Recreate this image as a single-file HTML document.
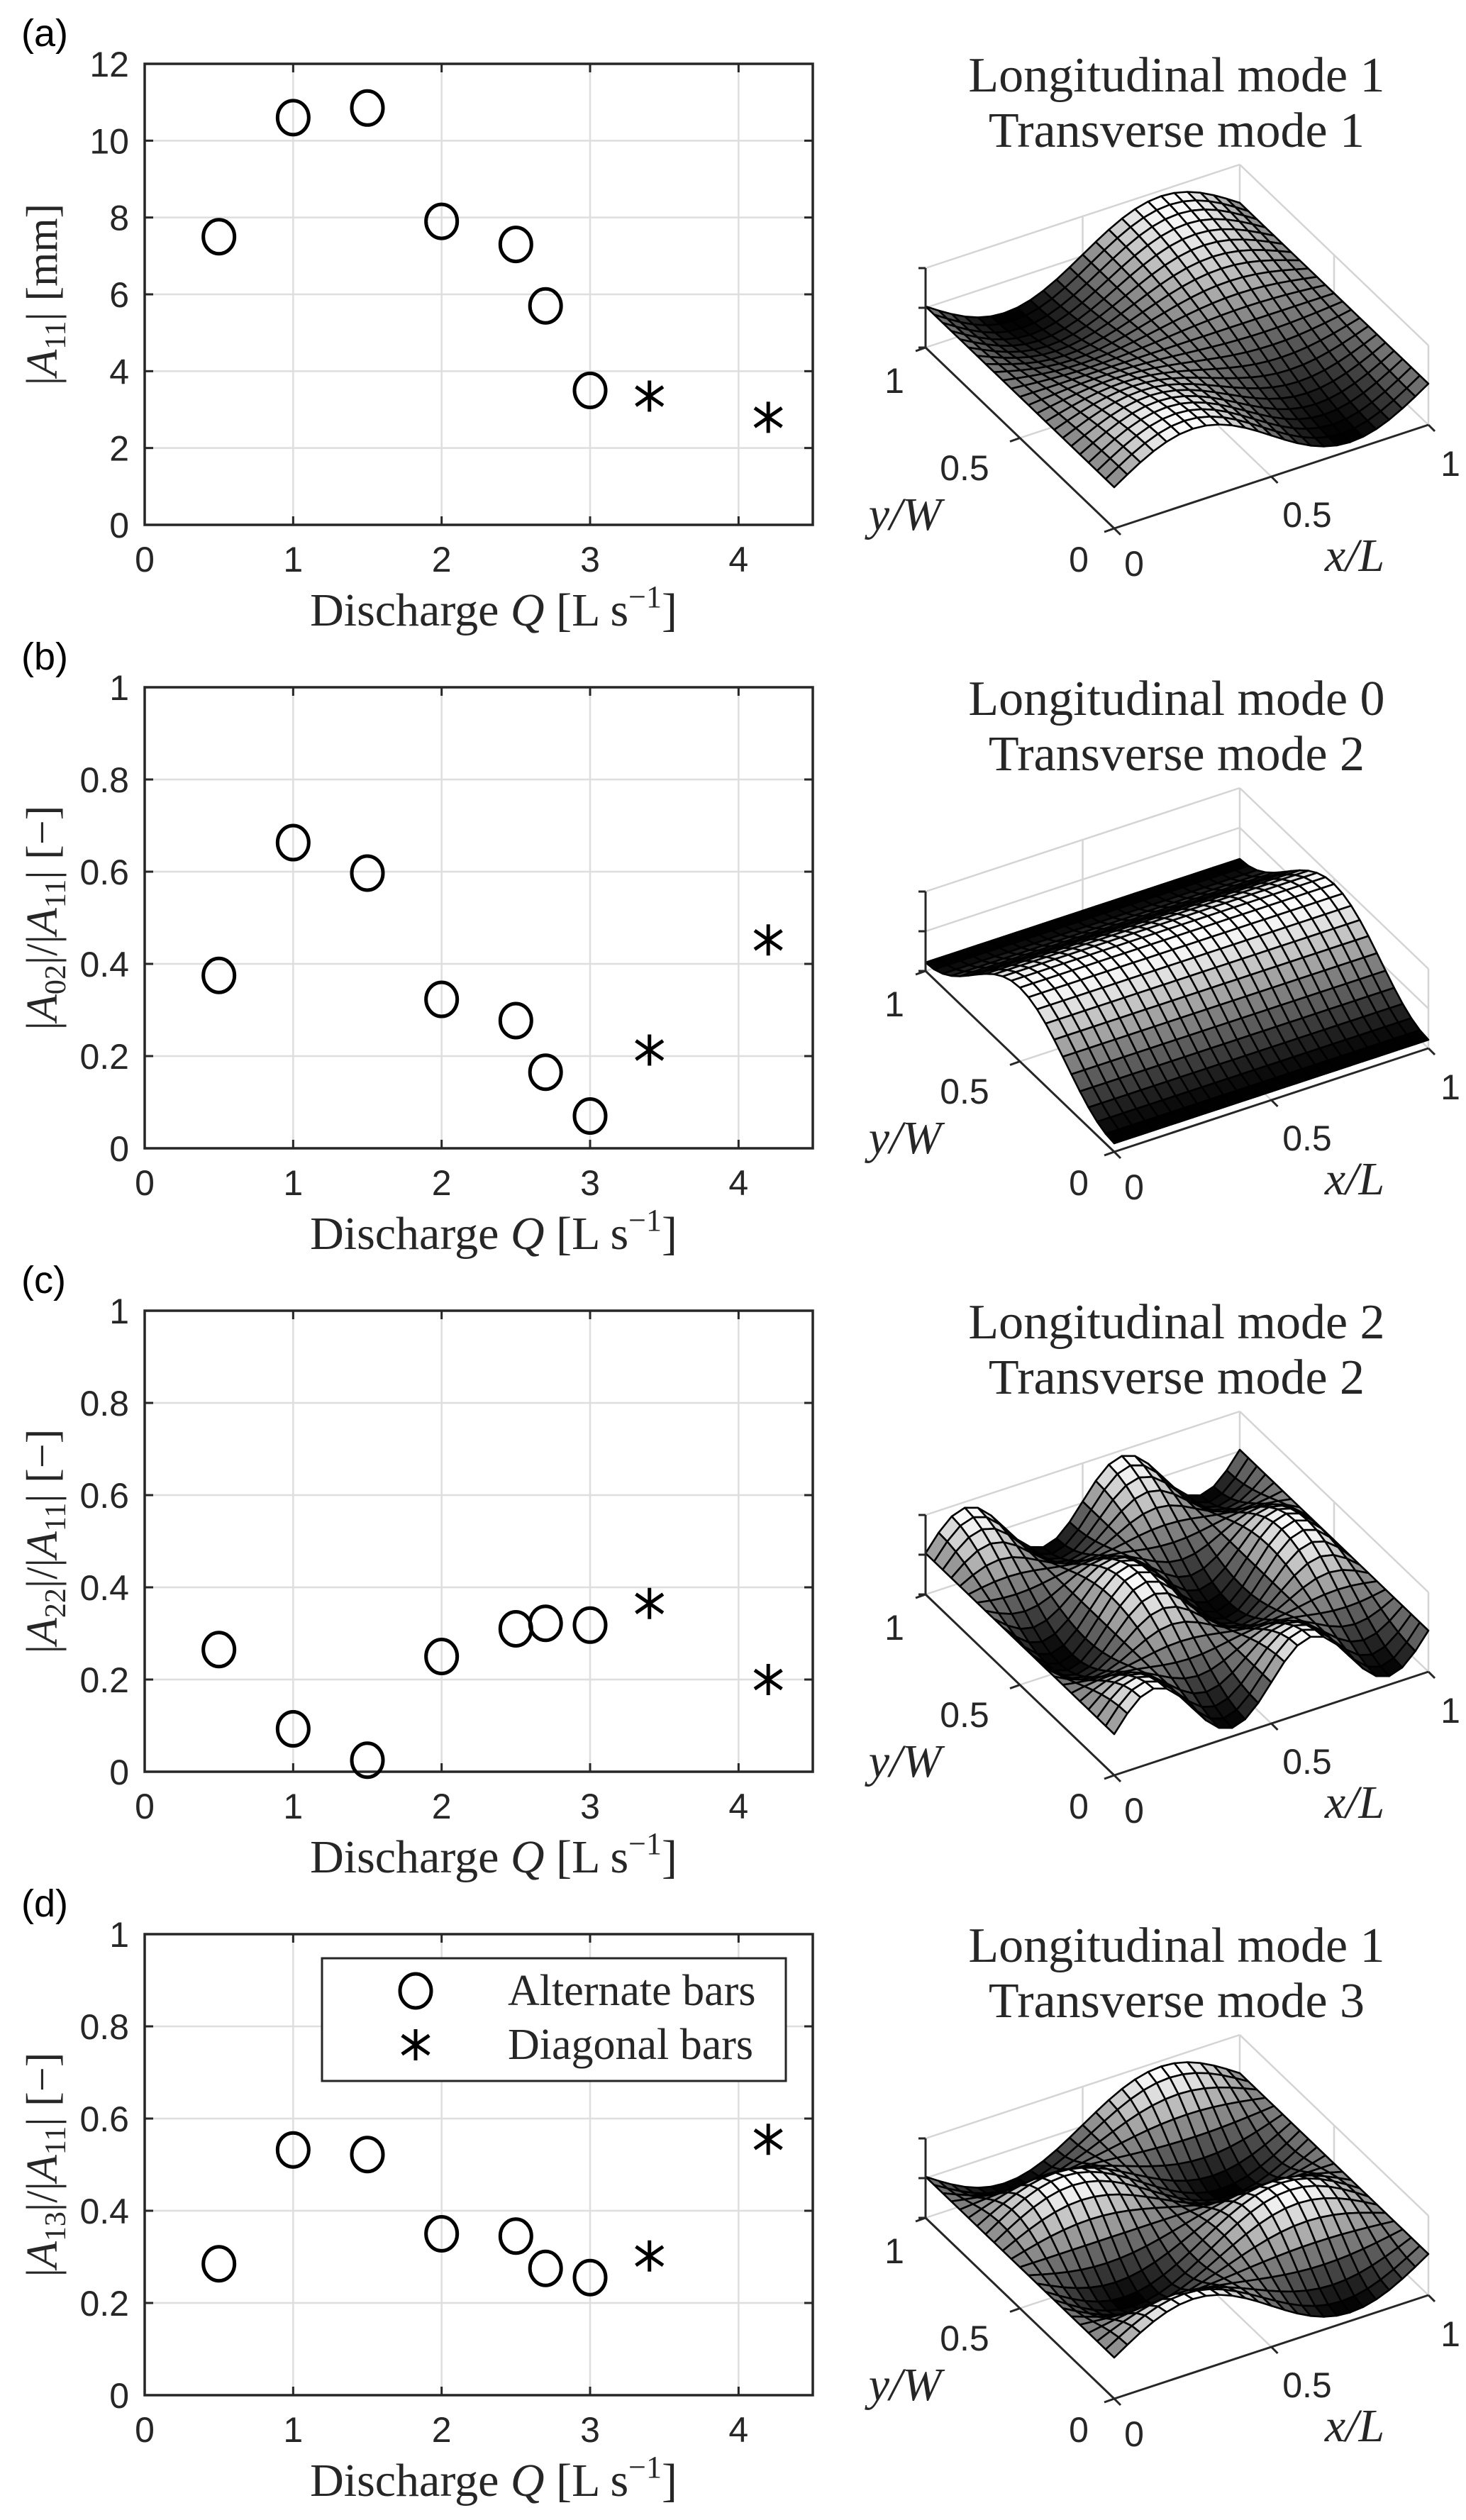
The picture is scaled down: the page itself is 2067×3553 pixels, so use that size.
<!DOCTYPE html>
<html><head><meta charset="utf-8"><style>
html,body{margin:0;padding:0;background:#fff;}
svg{display:block;}
.tick{font-family:"Liberation Sans",Arial,sans-serif;font-size:50px;fill:#262626;}
.ser{font-family:"Liberation Serif","DejaVu Serif",serif;fill:#262626;}
</style></head><body>
<svg id="fig" width="2067" height="3553" viewBox="0 0 2067 3553" xmlns="http://www.w3.org/2000/svg"></svg>
<script>
// ---- data ----
const xAlt = [0.5, 1, 1.5, 2, 2.5, 2.7, 3];
const xDiag = [3.4, 4.2];
const altA = [7.5, 10.6, 10.85, 7.9, 7.3, 5.7, 3.5];
const diagA = [3.35, 2.8];
const altB = [0.375, 0.663, 0.597, 0.323, 0.277, 0.165, 0.07];
const diagB = [0.213, 0.452];
const altC = [0.265, 0.093, 0.025, 0.25, 0.31, 0.322, 0.318];
const diagC = [0.365, 0.2];
const altD = [0.285, 0.532, 0.522, 0.35, 0.345, 0.275, 0.255];
const diagD = [0.302, 0.555];
const xTicks = [0, 1, 2, 3, 4];
const yTicksA = [0, 2, 4, 6, 8, 10, 12];
const yTicksR = [0, 0.2, 0.4, 0.6, 0.8, 1];
const yTickLabelsR = ["0", "0.2", "0.4", "0.6", "0.8", "1"];
const panelLetters = ["(a)", "(b)", "(c)", "(d)"];
const modeL = [1, 0, 2, 1];
const modeT = [1, 2, 2, 3];

const NS = "http://www.w3.org/2000/svg";
const svg = document.getElementById("fig");
function mk(tag, attrs, parent) {
  const el = document.createElementNS(NS, tag);
  for (const k in attrs) el.setAttribute(k, attrs[k]);
  (parent || svg).appendChild(el);
  return el;
}

const PL = 204, PR = 1146, PH = 650, GAP = 879, TOP0 = 90, XMAX = 4.5;

const panels = [
  {alt: altA, diag: diagA, ymax: 12, ticks: yTicksA, labels: yTicksA.map(String), sub: "11", ratio: false},
  {alt: altB, diag: diagB, ymax: 1, ticks: yTicksR, labels: yTickLabelsR, sub: "02", ratio: true},
  {alt: altC, diag: diagC, ymax: 1, ticks: yTicksR, labels: yTickLabelsR, sub: "22", ratio: true},
  {alt: altD, diag: diagD, ymax: 1, ticks: yTicksR, labels: yTickLabelsR, sub: "13", ratio: true}
];

function drawCircle(g, cx, cy) {
  const c = mk("ellipse", {cx: cx, cy: cy, rx: 22, ry: 24, fill: "none", stroke: "#000", "stroke-width": 5}, g);
  
  
  return c;
}
function drawStar(g, cx, cy) {
  const s = mk("g", {}, g);
  
  
  const r = 22;
  mk("line", {x1: cx, y1: cy - r, x2: cx, y2: cy + r, stroke: "#000", "stroke-width": 5}, s);
  mk("line", {x1: cx - r * 0.87, y1: cy - r * 0.6, x2: cx + r * 0.87, y2: cy + r * 0.6, stroke: "#000", "stroke-width": 5}, s);
  mk("line", {x1: cx - r * 0.87, y1: cy + r * 0.6, x2: cx + r * 0.87, y2: cy - r * 0.6, stroke: "#000", "stroke-width": 5}, s);
  return s;
}

panels.forEach((p, i) => {
  const top = TOP0 + i * GAP, bot = top + PH;
  const sx = v => PL + (PR - PL) * v / XMAX;
  const sy = v => bot - PH * v / p.ymax;
  const g = mk("g", {});
  
  

  const lab = mk("text", {x: 30, y: top - 25, "font-family": "Liberation Sans, Arial, sans-serif", "font-size": 54, fill: "#000"}, g);
  lab.textContent = panelLetters[i];
  
  

  xTicks.forEach(t => {
    if (t === 0) return;
    const gl = mk("line", {x1: sx(t), y1: top, x2: sx(t), y2: bot, stroke: "#dedede", "stroke-width": 2.5}, g);
    
    
  });
  p.ticks.forEach(t => {
    if (t === 0 || t === p.ymax) return;
    const gl = mk("line", {x1: PL, y1: sy(t), x2: PR, y2: sy(t), stroke: "#dedede", "stroke-width": 2.5}, g);
    
    
  });
  xTicks.forEach(t => {
    mk("line", {x1: sx(t), y1: bot, x2: sx(t), y2: bot - 12, stroke: "#262626", "stroke-width": 3}, g);
    mk("line", {x1: sx(t), y1: top, x2: sx(t), y2: top + 12, stroke: "#262626", "stroke-width": 3}, g);
    const tl = mk("text", {x: sx(t), y: bot + 66, "text-anchor": "middle", class: "tick"}, g);
    tl.textContent = String(t);
    
    
  });
  p.ticks.forEach((t, k) => {
    mk("line", {x1: PL, y1: sy(t), x2: PL + 12, y2: sy(t), stroke: "#262626", "stroke-width": 3}, g);
    mk("line", {x1: PR, y1: sy(t), x2: PR - 12, y2: sy(t), stroke: "#262626", "stroke-width": 3}, g);
    const tl = mk("text", {x: 182, y: sy(t) + 18, "text-anchor": "end", class: "tick"}, g);
    tl.textContent = p.labels[k];
    
    
  });
  const box = mk("rect", {x: PL, y: top, width: PR - PL, height: PH, fill: "none", stroke: "#262626", "stroke-width": 3.5}, g);
  
  

  const xl = mk("text", {x: 696, y: bot + 142, "text-anchor": "middle", class: "ser", "font-size": 66}, g);
  
  
  xl.innerHTML = 'Discharge <tspan font-style="italic">Q</tspan> [L  s<tspan dy="-26" font-size="44">−1</tspan><tspan dy="26">]</tspan>';

  const cy = (top + bot) / 2;
  const yl = mk("text", {x: 0, y: 0, "text-anchor": "middle", class: "ser", "font-size": 62, transform: "translate(80," + cy + ") rotate(-90)"}, g);
  
  
  if (!p.ratio) {
    yl.innerHTML = '|<tspan font-style="italic">A</tspan><tspan dy="12" font-size="42">11</tspan><tspan dy="-12">| [mm]</tspan>';
  } else {
    yl.innerHTML = '|<tspan font-style="italic">A</tspan><tspan dy="12" font-size="42">' + p.sub + '</tspan><tspan dy="-12">|/|</tspan><tspan font-style="italic">A</tspan><tspan dy="12" font-size="42">11</tspan><tspan dy="-12">| [−]</tspan>';
  }

  p.alt.forEach((v, k) => drawCircle(g, sx(xAlt[k]), sy(v)));
  p.diag.forEach((v, k) => drawStar(g, sx(xDiag[k]), sy(v)));

  if (i === 3) {
    const lg = mk("g", {});
    
    
    mk("rect", {x: 454, y: top + 34, width: 654, height: 173, fill: "#fff", stroke: "#262626", "stroke-width": 3}, lg);
    drawCircle(lg, 586, top + 80);
    drawStar(lg, 586, top + 156);
    const t1 = mk("text", {x: 716, y: top + 100, class: "ser", "font-size": 62, fill: "#000"}, lg);
    t1.textContent = "Alternate bars";
    
    
    const t2 = mk("text", {x: 716, y: top + 176, class: "ser", "font-size": 62, fill: "#000"}, lg);
    t2.textContent = "Diagonal bars";
    
    
  }

  // ---- 3D surface ----
  const O = [1571, top + 655];
  const EX = [443, -146], EY = [-266, -255], BOXH = 112;
  const P = (x, y, h) => [O[0] + EX[0] * x + EY[0] * y, O[1] + EX[1] * x + EY[1] * y - h];
  const s3 = mk("g", {});
  
  

  const tt = mk("text", {x: 1659, y: top + 39, "text-anchor": "middle", class: "ser", "font-size": 70, fill: "#000"}, s3);
  tt.textContent = "Longitudinal mode " + modeL[i];
  
  
  const tt2 = mk("text", {x: 1659, y: top + 117, "text-anchor": "middle", class: "ser", "font-size": 70, fill: "#000"}, s3);
  tt2.textContent = "Transverse mode " + modeT[i];
  
  

  const gline = (a, b, col, w) => mk("line", {x1: a[0], y1: a[1], x2: b[0], y2: b[1], stroke: col, "stroke-width": w}, s3);
  const LG = "#d4d4d4";
  gline(P(0, 1, BOXH), P(1, 1, BOXH), LG, 2.5);
  gline(P(0, 1, BOXH / 2), P(1, 1, BOXH / 2), LG, 2.5);
  gline(P(0, 1, 0), P(1, 1, 0), LG, 2.5);
  gline(P(0.5, 1, 0), P(0.5, 1, BOXH), LG, 2.5);
  gline(P(1, 1, 0), P(1, 1, BOXH), LG, 2.5);
  gline(P(1, 0, BOXH), P(1, 1, BOXH), LG, 2.5);
  gline(P(1, 0, BOXH / 2), P(1, 1, BOXH / 2), LG, 2.5);
  gline(P(1, 0, 0), P(1, 1, 0), LG, 2.5);
  gline(P(1, 0.5, 0), P(1, 0.5, BOXH), LG, 2.5);
  gline(P(1, 0, 0), P(1, 0, BOXH), LG, 2.5);
  gline(P(0.5, 0, 0), P(0.5, 1, 0), LG, 2.5);
  gline(P(0, 0.5, 0), P(1, 0.5, 0), LG, 2.5);

  const NX = 24, NY = 22;
  const m = modeL[i], n = modeT[i];
  const zf = (x, y) => {
    if (m === 0) return -Math.cos(n * Math.PI * y);
    return Math.sin(2 * Math.PI * m * x) * Math.cos(n * Math.PI * y);
  };
  const quads = [];
  for (let a = 0; a < NX; a++) for (let b = 0; b < NY; b++) {
    const x0 = a / NX, x1 = (a + 1) / NX, y0 = b / NY, y1 = (b + 1) / NY;
    const zc = zf((x0 + x1) / 2, (y0 + y1) / 2);
    quads.push({pts: [[x0, y0], [x1, y0], [x1, y1], [x0, y1]], z: zc, d: 146 * (x0 + x1) / 2 + 255 * (y0 + y1) / 2});
  }
  quads.sort((q, r) => r.d - q.d);
  const sg = mk("g", {}, s3);
  
  
  quads.forEach(q => {
    const pts = q.pts.map(pt => P(pt[0], pt[1], 58 + 46 * zf(pt[0], pt[1])).join(",")).join(" ");
    const v = Math.round(Math.max(0, Math.min(1, (q.z + 1) / 2)) * 255);
    mk("polygon", {points: pts, fill: "rgb(" + v + "," + v + "," + v + ")", stroke: "#000", "stroke-width": 2.6, "stroke-linejoin": "round"}, sg);
  });

  const DK = "#262626";
  const ya = gline(P(0, 1, 0), P(0, 0, 0), DK, 3);
  
  
  const xa = gline(P(0, 0, 0), P(1, 0, 0), DK, 3);
  
  
  const za = gline(P(0, 1, 0), P(0, 1, BOXH), DK, 3);
  
  
  [0, 0.5, 1].forEach(t => {
    const a = P(0, t, 0);
    gline(a, [a[0] - 14, a[1] + 5], DK, 3);
    const b = P(t, 0, 0);
    gline(b, [b[0] + 9, b[1] + 9], DK, 3);
    const c = P(0, 1, BOXH * t);
    gline(c, [c[0] - 10, c[1]], DK, 3);
  });
  const tl3 = (txt, dx, dy, nm) => {
    const t = mk("text", {x: O[0] + dx, y: O[1] + dy, "text-anchor": "middle", class: "tick"}, s3);
    t.textContent = txt;
    
    
  };
  tl3("1", -310, -191, 'y-tick-label-3d');
  tl3("0.5", -211, -68, 'y-tick-label-3d');
  tl3("0", -50, 61, 'y-tick-label-3d');
  tl3("0", 28, 67, 'x-tick-label-3d');
  tl3("0.5", 272, -2, 'x-tick-label-3d');
  tl3("1", 474, -74, 'x-tick-label-3d');
  const yw = mk("text", {x: O[0] - 295, y: O[1] + 2, "text-anchor": "middle", class: "ser", "font-size": 66, "font-style": "italic"}, s3);
  yw.textContent = "y/W";
  
  
  const xlb = mk("text", {x: O[0] + 339, y: O[1] + 60, "text-anchor": "middle", class: "ser", "font-size": 66, "font-style": "italic"}, s3);
  xlb.textContent = "x/L";
  
  
});
</script>
</body></html>
